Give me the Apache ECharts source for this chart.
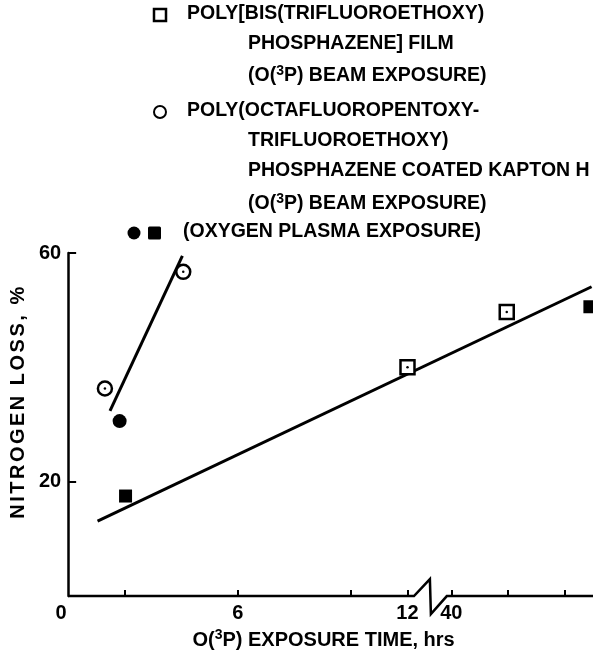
<!DOCTYPE html>
<html><head><meta charset="utf-8">
<script src="https://cdn.jsdelivr.net/npm/echarts@6/dist/echarts.min.js"></script>
<style>html,body{margin:0;padding:0;background:#fff}#c{width:593px;height:655px}</style>
</head><body><div id="c"></div>
<script>
// ---- data: exposure time (hrs) and nitrogen loss (%) ----
const openSquareHours = [12, 49.8];
const openSquareLoss = [40, 49.7];
const openCircleHours = [1.30, 4.07];
const openCircleLoss = [36.3, 56.7];
const filledCircleHours = [1.82];
const filledCircleLoss = [30.6];
const filledSquareHours = [2.03, 64.5];
const filledSquareLoss = [17.5, 50.6];
const fitAHours = [1.48, 4.04];
const fitALoss = [32.4, 59.5];
const fitBHours = [1.04, 64.8];
const fitBLoss = [13.1, 54.1];
const xTickHours = [2, 6, 10, 12, 40, 50, 60];
const xLabelHours = [0, 6, 12, 40];
const yTickValues = [20, 60];
const yLabelValues = [20, 60];
const yTitle = 'NITROGEN LOSS, %';

// ---- broken x axis: 0..12 hrs, then 40+ hrs compressed ----
const BREAK_LOW = 12, BREAK_HIGH = 40, BREAK_POS = 13.55, HIGH_SCALE = 0.2;
function toAxis(h) { return h <= BREAK_LOW + 1 ? h : BREAK_POS + (h - BREAK_HIGH) * HIGH_SCALE; }
function fromAxis(v) { return v <= BREAK_LOW + 1 ? v : BREAK_HIGH + (v - BREAK_POS) / HIGH_SCALE; }
function pairs(hs, vs) { return hs.map((h, i) => [toAxis(h), vs[i]]); }

const FONT = '"Liberation Sans", Arial, Helvetica, sans-serif';
const FS = 20;
const chart = echarts.init(document.getElementById('c'), null, {renderer: 'canvas'});

const tickStyle = {color: '#000', fontFamily: FONT, fontWeight: 'bold', fontSize: FS};
const supRich = {
  t: {fontFamily: FONT, fontWeight: 'bold', fontSize: FS, color: '#000', verticalAlign: 'bottom'},
  s: {fontFamily: FONT, fontWeight: 'bold', fontSize: 14, color: '#000', verticalAlign: 'bottom', padding: [0, 0, 8, 0]}
};
// letter-spaced y title (each glyph a rich token)
const yTitleRich = '{c|' + yTitle.split('').join('}{c|') + '}';

const openStyle = {color: '#fff', borderColor: '#000', borderWidth: 2.5, opacity: 1};
const solid = {color: '#000', opacity: 1};
function dotSeries(hs, vs) {
  return {type: 'scatter', data: pairs(hs, vs), symbol: 'circle', symbolSize: 2.5,
    itemStyle: solid, z: 6, silent: true};
}

chart.setOption({
  animation: false,
  backgroundColor: '#fff',
  grid: {left: 61, top: 253, width: 532, height: 344, containLabel: false},
  xAxis: {
    type: 'value', min: 0, max: 18.56,
    axisLine: {show: false},
    splitLine: {show: false},
    axisTick: {show: true, inside: true, length: 6, lineStyle: {color: '#000', width: 2},
      customValues: xTickHours.map(toAxis)},
    axisLabel: {show: true, customValues: xLabelHours.map(toAxis), margin: 7,
      color: '#000', fontFamily: FONT, fontWeight: 'bold', fontSize: FS,
      formatter: v => {
        const h = Math.round(fromAxis(v));
        return h === 0 ? '{z|0}' : String(h);
      },
      rich: {z: {fontFamily: FONT, fontWeight: 'bold', fontSize: FS, color: '#000', padding: [0, 14, 0, 0]}}},
    name: '{t|O(}{s|3}{t|P) EXPOSURE TIME, hrs}',
    nameLocation: 'middle', nameGap: 30,
    nameTextStyle: {rich: supRich, padding: [0, 14, 0, 0]}
  },
  yAxis: {
    type: 'value', min: 0, max: 60,
    axisLine: {show: true, lineStyle: {color: '#000', width: 2.5}},
    splitLine: {show: false},
    axisTick: {show: true, inside: true, length: 8, lineStyle: {color: '#000', width: 2},
      customValues: yTickValues},
    axisLabel: {show: true, customValues: yLabelValues, margin: 7, ...tickStyle},
    name: yTitleRich,
    nameLocation: 'middle', nameGap: 32, nameRotate: 90,
    nameTextStyle: {padding: [0, 0, 0, 46],
      rich: {c: {fontFamily: FONT, fontWeight: 'bold', fontSize: FS, color: '#000', padding: [0, 2.5, 0, 0]}}}
  },
  series: [
    {type: 'line', data: pairs(fitAHours, fitALoss), symbol: 'none', lineStyle: {color: '#000', width: 3}, z: 3},
    {type: 'line', data: pairs(fitBHours, fitBLoss), symbol: 'none', lineStyle: {color: '#000', width: 3}, z: 3},
    {type: 'scatter', data: pairs(openCircleHours, openCircleLoss), symbol: 'circle', symbolSize: 14, itemStyle: openStyle, z: 5},
    dotSeries(openCircleHours, openCircleLoss),
    {type: 'scatter', data: pairs(openSquareHours, openSquareLoss), symbol: 'rect', symbolSize: 14, itemStyle: openStyle, z: 5},
    dotSeries(openSquareHours, openSquareLoss),
    {type: 'scatter', data: pairs(filledCircleHours, filledCircleLoss), symbol: 'circle', symbolSize: 14, itemStyle: solid, z: 5},
    {type: 'scatter', data: pairs(filledSquareHours, filledSquareLoss), symbol: 'rect', symbolSize: 13, itemStyle: solid, z: 5}
  ]
});

// ---- axis line with break symbol, positioned via the axis scale ----
const px = (x, y) => chart.convertToPixel({gridIndex: 0}, [x, y]);
const o = px(0, 0), e = px(18.56, 0);
const bLeft = px(12.23, 0), bRight = px(13.39, 0);
const midX = (bLeft[0] + bRight[0]) / 2;
const lineSt = {stroke: '#000', lineWidth: 2.5, fill: null};

// ---- legend block (text + key symbols) ----
const LFS = 19.5;
const legendRich = {
  t: {fontFamily: FONT, fontWeight: 'bold', fontSize: LFS, color: '#000', verticalAlign: 'bottom'},
  s: {fontFamily: FONT, fontWeight: 'bold', fontSize: 14, color: '#000', verticalAlign: 'bottom', padding: [0, 0, 8, 0]}
};
function legText(x, y, txt) {
  return {type: 'text', left: x, top: y - 11, style: {text: txt, rich: legendRich}, silent: true};
}
const graphics = [
  {type: 'polyline', shape: {points: [[o[0], o[1]], [bLeft[0], bLeft[1]], [midX - 0.5, o[1] - 17], [midX + 0.5, o[1] + 18], [bRight[0], bRight[1]], [e[0], e[1]]]}, style: lineSt, silent: true},
  {type: 'rect', shape: {x: 154, y: 9, width: 12, height: 12}, style: {fill: '#fff', stroke: '#000', lineWidth: 2.5}},
  legText(187, 15, '{t|POLY[BIS(TRIFLUOROETHOXY)}'),
  legText(248, 45, '{t|PHOSPHAZENE] FILM}'),
  legText(248, 75, '{t|(O(}{s|3}{t|P) BEAM EXPOSURE)}'),
  {type: 'circle', shape: {cx: 160, cy: 112, r: 6}, style: {fill: '#fff', stroke: '#000', lineWidth: 2}},
  legText(187, 112, '{t|POLY(OCTAFLUOROPENTOXY-}'),
  legText(248, 142, '{t|TRIFLUOROETHOXY)}'),
  legText(248, 172, '{t|PHOSPHAZENE COATED KAPTON H}'),
  legText(248, 203, '{t|(O(}{s|3}{t|P) BEAM EXPOSURE)}'),
  {type: 'circle', shape: {cx: 134, cy: 233, r: 6.5}, style: {fill: '#000'}},
  {type: 'rect', shape: {x: 148, y: 226.5, width: 13, height: 13, r: 1.5}, style: {fill: '#000'}},
  legText(183, 233, '{t|(OXYGEN PLASMA EXPOSURE)}')
];
chart.setOption({graphic: graphics});
</script>
</body></html>
